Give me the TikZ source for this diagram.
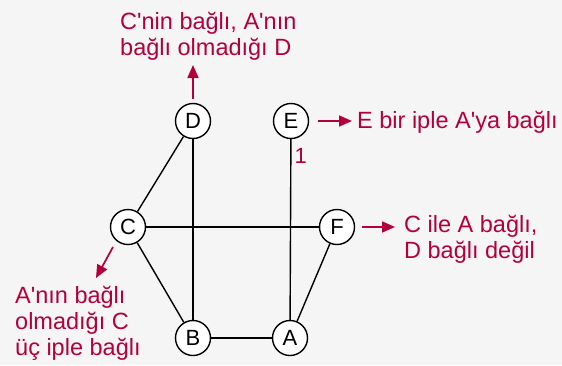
\documentclass[tikz,border=0pt]{standalone}
\usepackage{fontspec}
\setmainfont{Liberation Sans}[Ligatures=TeXOff]
\usetikzlibrary{arrows.meta}
\definecolor{noteRed}{RGB}{178,0,60}
\definecolor{paperGray}{RGB}{245,245,245}

\begin{document}
\begin{tikzpicture}[
    x=1pt, y=-1pt,
    knot/.style={circle, draw, line width=1.4pt, fill=white, minimum size=35pt, inner sep=0pt, font=\fontsize{22}{26}\selectfont},
    rope/.style={line width=1.4pt},
    note/.style={text=noteRed, align=left, anchor=base west, inner sep=0pt, font=\fontsize{23.5}{26}\selectfont},
    pointer/.style={-{Triangle[length=13pt, width=11pt]}, noteRed, line width=1.7pt}
]
    \fill[paperGray] (0,0) rectangle (562,365);
    \useasboundingbox (0,0) rectangle (562,365);

    % knots
    \node[knot] (D) at (193,121) {D};
    \node[knot] (E) at (291,121) {E};
    \node[knot] (C) at (128,227) {C};
    \node[knot] (F) at (337,227) {F};
    \node[knot] (B) at (193,338) {B};
    \node[knot] (A) at (290,338) {A};

    % ropes
    \draw[rope] (C) -- (D);
    \draw[rope] (D) -- (B);
    \draw[rope] (E) -- node[pos=0.09, right, inner sep=3pt, text=noteRed, font=\fontsize{22}{26}\selectfont] {1} (A);
    \draw[rope] (C) -- (F);
    \draw[rope] (C) -- (B);
    \draw[rope] (F) -- (A);
    \draw[rope] (B) -- (A);

    % notes (anchored at the last line's baseline)
    \node[note] (noteD) at (120,55) {C'nin bağlı, A'nın\\bağlı olmadığı D};
    \node[note] (noteE) at (357,128) {E bir iple A'ya bağlı};
    \node[note] (noteF) at (404,258) {C ile A bağlı,\\D bağlı değil};
    \node[note] (noteC) at (15,355) {A'nın bağlı\\olmadığı C\\üç iple bağlı};

    % pointers
    \coordinate (startD) at (193,99);
    \coordinate (tipD) at (193,65);
    \coordinate (startE) at (318,121);
    \coordinate (tipE) at (352,121);
    \coordinate (startF) at (362,227);
    \coordinate (tipF) at (395,227);
    \coordinate (startC) at (113,247);
    \coordinate (tipC) at (96,278);
    \draw[pointer] (startD) -- (tipD);
    \draw[pointer] (startE) -- (tipE);
    \draw[pointer] (startF) -- (tipF);
    \draw[pointer] (startC) -- (tipC);
\end{tikzpicture}
\end{document}
